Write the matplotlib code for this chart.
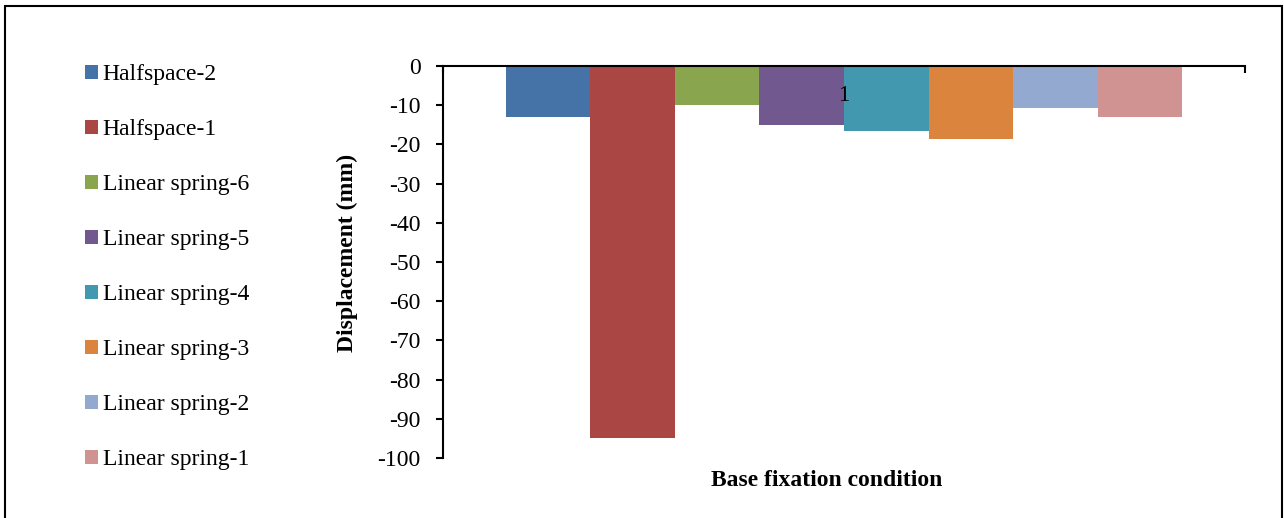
import matplotlib
matplotlib.use("Agg")
import matplotlib.pyplot as plt
from matplotlib.patches import Rectangle, Patch

plt.rcParams['font.family'] = ['Liberation Serif', 'DejaVu Serif']

# data
series = ['Halfspace-2', 'Halfspace-1', 'Linear spring-6', 'Linear spring-5',
          'Linear spring-4', 'Linear spring-3', 'Linear spring-2', 'Linear spring-1']
displacement = [-13, -95, -10, -15, -16.5, -18.5, -10.7, -13]
category = '1'
yticks = [0, -10, -20, -30, -40, -50, -60, -70, -80, -90, -100]
colors = ['#4572A7', '#AA4643', '#89A54E', '#71588F',
          '#4198AF', '#DB843D', '#93A9CF', '#D19392']

fig = plt.figure(figsize=(12.84, 5.18), dpi=100)
ax = fig.add_axes([443 / 1284, 1 - 458 / 518, 802 / 1284, 392 / 518])

n = len(series)
group = 0.844
w = group / n
for i, (name, val) in enumerate(zip(series, displacement)):
    ax.bar(0.5 + (i - (n - 1) / 2) * w, val, width=w, color=colors[i],
           label=name, zorder=2)

ax.set_xlim(0, 1)
ax.set_ylim(-100, 0)
ax.set_yticks(yticks)
ax.set_yticklabels([str(t) for t in yticks])
ax.tick_params(axis='y', direction='out', length=5, width=1.5,
               labelsize=17, pad=11)
ax.set_xticks([0, 1])
ax.set_xticklabels([])
ax.tick_params(axis='x', bottom=False, top=True, direction='in',
               length=5, width=1.5)

for s in ['right', 'bottom']:
    ax.spines[s].set_visible(False)
for s in ['left', 'top']:
    ax.spines[s].set_linewidth(1.5)
    ax.spines[s].set_zorder(3)

# category label sits just under the axis line, over the bars
ax.text(0.5, -7.5, category, ha='center', va='center', fontsize=16.5, zorder=4)

ax.set_ylabel('Displacement (mm)', fontsize=17, fontweight='bold')
ax.yaxis.set_label_coords(-0.106, 0.523)
fig.text(827 / 1284, 1 - 480 / 518, 'Base fixation condition',
         ha='center', va='center', fontsize=17, fontweight='bold')

handles = [Patch(facecolor=c, edgecolor='none') for c in colors]
fig.legend(handles, series, loc='upper left',
           bbox_to_anchor=(85 / 1284, 1 - 64 / 518), frameon=False,
           fontsize=17, handlelength=0.55, handleheight=0.55,
           handletextpad=0.2, labelspacing=1.44, borderpad=0,
           borderaxespad=0)

# outer chart border
fig.patches.append(Rectangle((5 / 1284, -0.02), 1277 / 1284, 1.02 - 6 / 518,
                             transform=fig.transFigure, fill=False,
                             edgecolor='black', linewidth=1.5))

fig.savefig('out.png', dpi=100)
